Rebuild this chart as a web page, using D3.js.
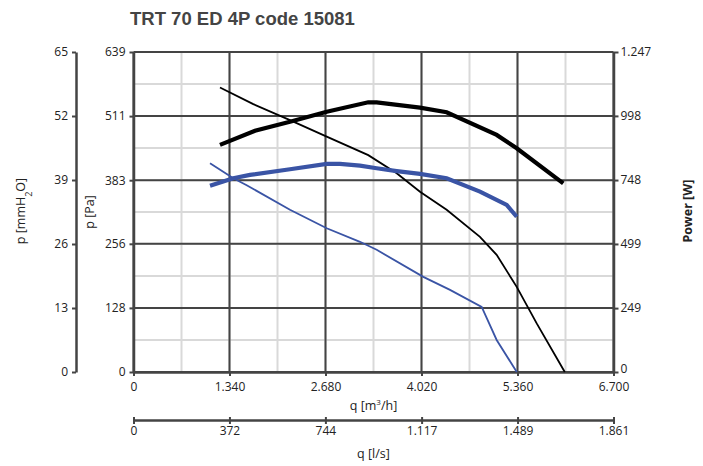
<!DOCTYPE html>
<html><head><meta charset="utf-8">
<script src="https://cdn.jsdelivr.net/npm/d3@7"></script>
<style>body{margin:0;background:#fff}svg{display:block}text{font-family:"Open Sans","Noto Sans",sans-serif}</style>
</head><body><svg id="c" width="703" height="466"></svg>
<script>
const title = "TRT 70 ED 4P code 15081";
const qTicks = [0,1340,2680,4020,5360,6700];          // m3/h
const lsTicks = [0,372,744,1117,1489,1861];           // l/s
const paTicks = [0,128,256,383,511,639];              // Pa
const mmTicks = [0,13,26,39,52,65];                   // mmH2O
const wTicks = [0,249,499,748,998,1247];              // W

// thin black: pressure curve, high speed [q m3/h, Pa]
const pressHighQ = [1207,1672,2184,2697,3277,3674,3999,4371,4836,5069,5349,5628,6020];
const pressHighP = [568,535,503,470,433,397,360,324,270,234,170,97,0];
// thin blue: pressure curve, low speed
const pressLowQ = [1068,1393,1580,2184,2697,3161,3394,4045,4418,4860,5069,5350];
const pressLowP = [417,387,373,324,287,260,244,190,164,130,64,0];
// thick black: power, high speed [q, W]
const powHighQ = [1207,1696,2184,2697,3277,3394,3998,4371,5069,5349,5999];
const powHighW = [885,940,975,1014,1051,1051,1030,1012,924,872,735];
// thick blue: power, low speed
const powLowQ = [1068,1393,1626,2184,2697,2882,3161,3394,3674,3999,4371,4836,5209,5349];
const powLowW = [726,755,768,790,811,811,804,794,783,772,755,703,651,605];

const fmtQ = v => v===0 ? "0" : (v/1000).toFixed(3);
const fmtDot = v => v >= 1000 ? String(v).replace(/(\d)(\d{3})$/, "$1.$2") : String(v);

const L = 133.5, R = 613.5, T = 52, B = 372;
const x = d3.scaleLinear().domain([0,6700]).range([L,R]);
const xl = d3.scaleLinear().domain([0,1861]).range([L,R]);
const yPa = d3.scaleLinear().domain([0,639]).range([B,T]);
const yMm = d3.scaleLinear().domain([0,65]).range([B,T]);
const yW = d3.scaleLinear().domain([0,1247]).range([B,T]);

const svg = d3.select("#c");
const axisCol = "#444";

// minor grid
const g = svg.append("g");
d3.range(0, 6700.1, 670).forEach(v => g.append("line").attr("x1",x(v)).attr("x2",x(v)).attr("y1",T).attr("y2",B).attr("stroke","#d9d9d9").attr("stroke-width",2));
d3.range(0, 11).forEach(i => { const v = 639*i/10; g.append("line").attr("x1",L).attr("x2",R).attr("y1",yPa(v)).attr("y2",yPa(v)).attr("stroke","#d9d9d9").attr("stroke-width",2); });
// major grid
qTicks.forEach(v => g.append("line").attr("x1",x(v)).attr("x2",x(v)).attr("y1",T).attr("y2",B).attr("stroke",axisCol).attr("stroke-width",2));
paTicks.forEach(v => g.append("line").attr("x1",L).attr("x2",R).attr("y1",yPa(v)).attr("y2",yPa(v)).attr("stroke",axisCol).attr("stroke-width",2));

function styleAxis(sel){
  sel.select(".domain").attr("stroke",axisCol).attr("stroke-width",2.5);
  sel.selectAll(".tick line").attr("stroke",axisCol).attr("stroke-width",2);
  sel.selectAll(".tick text").attr("fill","#222").style("font-size","12px").style("font-family",'"Open Sans",sans-serif');
}
// Pa axis
svg.append("g").attr("transform",`translate(${L},0)`)
  .call(d3.axisLeft(yPa).tickValues(paTicks).tickFormat(fmtDot).tickSize(4).tickSizeOuter(0).tickPadding(4)).call(styleAxis);
// mmH2O axis
svg.append("g").attr("transform",`translate(76,0)`)
  .call(d3.axisLeft(yMm).tickValues(mmTicks).tickFormat(fmtDot).tickSize(4).tickSizeOuter(0).tickPadding(4)).call(styleAxis);
// W axis
const wAx = svg.append("g").attr("transform",`translate(${R},0)`)
  .call(d3.axisRight(yW).tickValues(wTicks).tickFormat(fmtDot).tickSize(5).tickSizeOuter(0).tickPadding(2)).call(styleAxis);
wAx.selectAll(".tick text").filter(d => d === 0).attr("dy","0.02em");
// q m3/h axis
svg.append("g").attr("transform",`translate(0,${B})`)
  .call(d3.axisBottom(x).tickValues(qTicks).tickFormat(fmtQ).tickSize(4).tickSizeOuter(0).tickPadding(6)).call(styleAxis);
// l/s axis
const lsAx = svg.append("g").attr("transform",`translate(0,420)`)
  .call(d3.axisBottom(xl).tickValues(lsTicks).tickFormat(fmtDot).tickSize(4).tickSizeOuter(0).tickPadding(2)).call(styleAxis);
lsAx.selectAll(".tick line").attr("y1",-3);

// curves
const line = (xs, ys, ysc) => d3.line().x((d,i)=>x(xs[i])).y((d,i)=>ysc(ys[i]))(xs);
svg.append("path").attr("d",line(pressHighQ,pressHighP,yPa)).attr("fill","none").attr("stroke","#000").attr("stroke-width",1.8);
svg.append("path").attr("d",line(pressLowQ,pressLowP,yPa)).attr("fill","none").attr("stroke","#3a54a5").attr("stroke-width",1.8);
svg.append("path").attr("d",line(powHighQ,powHighW,yW)).attr("fill","none").attr("stroke","#000").attr("stroke-width",4.2);
svg.append("path").attr("d",line(powLowQ,powLowW,yW)).attr("fill","none").attr("stroke","#3a54a5").attr("stroke-width",4.2);

// title
svg.append("text").attr("x",130).attr("y",25).text(title)
  .attr("fill","#444").style("font-family",'"Liberation Sans",Arial,sans-serif').style("font-weight","bold").style("font-size","18.5px");

// axis titles
const lab = (xx,yy,rot,bold) => {
  const t = svg.append("text").attr("transform",`translate(${xx},${yy})${rot?" rotate(-90)":""}`).attr("text-anchor","middle")
    .attr("fill","#222").style("font-size","12.5px");
  if(bold) t.style("font-weight","bold");
  return t;
};
let t1 = lab(25,211,true); t1.text("p [mmH"); t1.append("tspan").attr("baseline-shift","sub").style("font-size","9px").text("2"); t1.append("tspan").text("O]");
lab(94,212,true).text("p [Pa]");
lab(692,211,true,true).text("Power [W]");
let t2 = lab(373.5,410,false); t2.text("q [m"); t2.append("tspan").attr("baseline-shift","super").style("font-size","8px").text("3"); t2.append("tspan").text("/h]");
lab(373.5,458,false).text("q [l/s]");
</script></body></html>
